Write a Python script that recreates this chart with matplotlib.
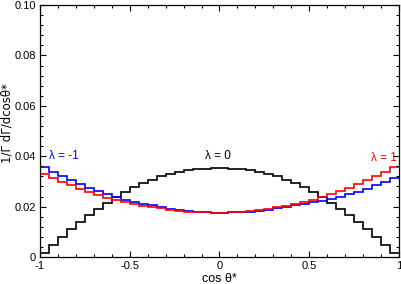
import numpy as np
import matplotlib
matplotlib.use('Agg')
import matplotlib.pyplot as plt
from matplotlib.ticker import MultipleLocator, FixedLocator

plt.rcParams['font.family'] = ['Liberation Sans', 'DejaVu Sans']

# histogram bins: 40 bins in cos theta*
bin_edges = np.linspace(-1, 1, 41)

# lambda = 0 (black)
lam0 = [0.0016, 0.0049, 0.0079, 0.0110, 0.0139, 0.0166, 0.0192, 0.0216, 0.0238, 0.0258,
        0.0276, 0.0292, 0.0307, 0.0320, 0.0331, 0.0339, 0.0345, 0.0349, 0.0351, 0.0352,
        0.0352, 0.0351, 0.0349, 0.0345, 0.0339, 0.0331, 0.0320, 0.0307, 0.0292, 0.0276,
        0.0258, 0.0238, 0.0215, 0.0191, 0.0166, 0.0139, 0.0110, 0.0080, 0.0048, 0.0017]

# lambda = -1 (blue)
lam_m1 = [0.0357, 0.0339, 0.0321, 0.0306, 0.0290, 0.0275, 0.0262, 0.0250, 0.0239, 0.0228,
          0.0220, 0.0212, 0.0205, 0.0198, 0.0192, 0.0187, 0.0183, 0.0180, 0.0177, 0.0176,
          0.0176, 0.0177, 0.0178, 0.0180, 0.0184, 0.0188, 0.0193, 0.0199, 0.0205, 0.0211,
          0.0217, 0.0224, 0.0232, 0.0240, 0.0250, 0.0260, 0.0272, 0.0285, 0.0298, 0.0313]

# lambda = 1 (red)
lam_p1 = [0.0329, 0.0312, 0.0297, 0.0284, 0.0271, 0.0258, 0.0246, 0.0235, 0.0227, 0.0217,
          0.0210, 0.0204, 0.0198, 0.0193, 0.0188, 0.0184, 0.0180, 0.0178, 0.0177, 0.0176,
          0.0176, 0.0177, 0.0179, 0.0182, 0.0186, 0.0191, 0.0197, 0.0204, 0.0211, 0.0219,
          0.0228, 0.0238, 0.0249, 0.0261, 0.0274, 0.0289, 0.0305, 0.0322, 0.0339, 0.0357]

x_ticks = [-1, -0.5, 0, 0.5, 1]
x_labels = ['-1', '-0.5', '0', '0.5', '1']
y_ticks = [0, 0.02, 0.04, 0.06, 0.08, 0.10]
y_labels = ['0', '0.02', '0.04', '0.06', '0.08', '0.10']

fig = plt.figure(figsize=(4.02, 2.84), dpi=100)
ax = fig.add_axes([0.0995, 0.095, 0.893, 0.887])

ax.stairs(lam0, bin_edges, baseline=None, color='black', lw=1.2)
ax.stairs(lam_m1, bin_edges, baseline=None, color='blue', lw=1.2)
ax.stairs(lam_p1, bin_edges, baseline=None, color='red', lw=1.2)

ax.set_xlim(-1, 1)
ax.set_ylim(0, 0.1)
ax.xaxis.set_major_locator(FixedLocator(x_ticks))
ax.set_xticklabels(x_labels)
ax.yaxis.set_major_locator(FixedLocator(y_ticks))
ax.set_yticklabels(y_labels)
ax.xaxis.set_minor_locator(MultipleLocator(0.1))
ax.yaxis.set_minor_locator(MultipleLocator(0.004))
ax.tick_params(which='both', direction='in', top=True, right=True, labelsize=8, pad=3)
ax.tick_params(which='major', length=4, width=0.8)
ax.tick_params(which='minor', length=2.2, width=0.8)
for s in ax.spines.values():
    s.set_linewidth(0.9)

ax.set_xlabel('cos θ*', fontsize=9, labelpad=1)
ax.set_ylabel('1/Γ dΓ/dcosθ*', fontsize=8.5, family=['DejaVu Sans'])
ax.yaxis.set_label_coords(-0.074, 0.53)

ax.text(-0.95, 0.0378, 'λ = -1', color='blue', fontsize=8.5, ha='left', va='bottom')
ax.text(-0.08, 0.0378, 'λ = 0', color='black', fontsize=8.5, ha='left', va='bottom')
ax.text(0.99, 0.0370, 'λ = 1', color='red', fontsize=8.5, ha='right', va='bottom')

fig.savefig('out.png', dpi=100)
